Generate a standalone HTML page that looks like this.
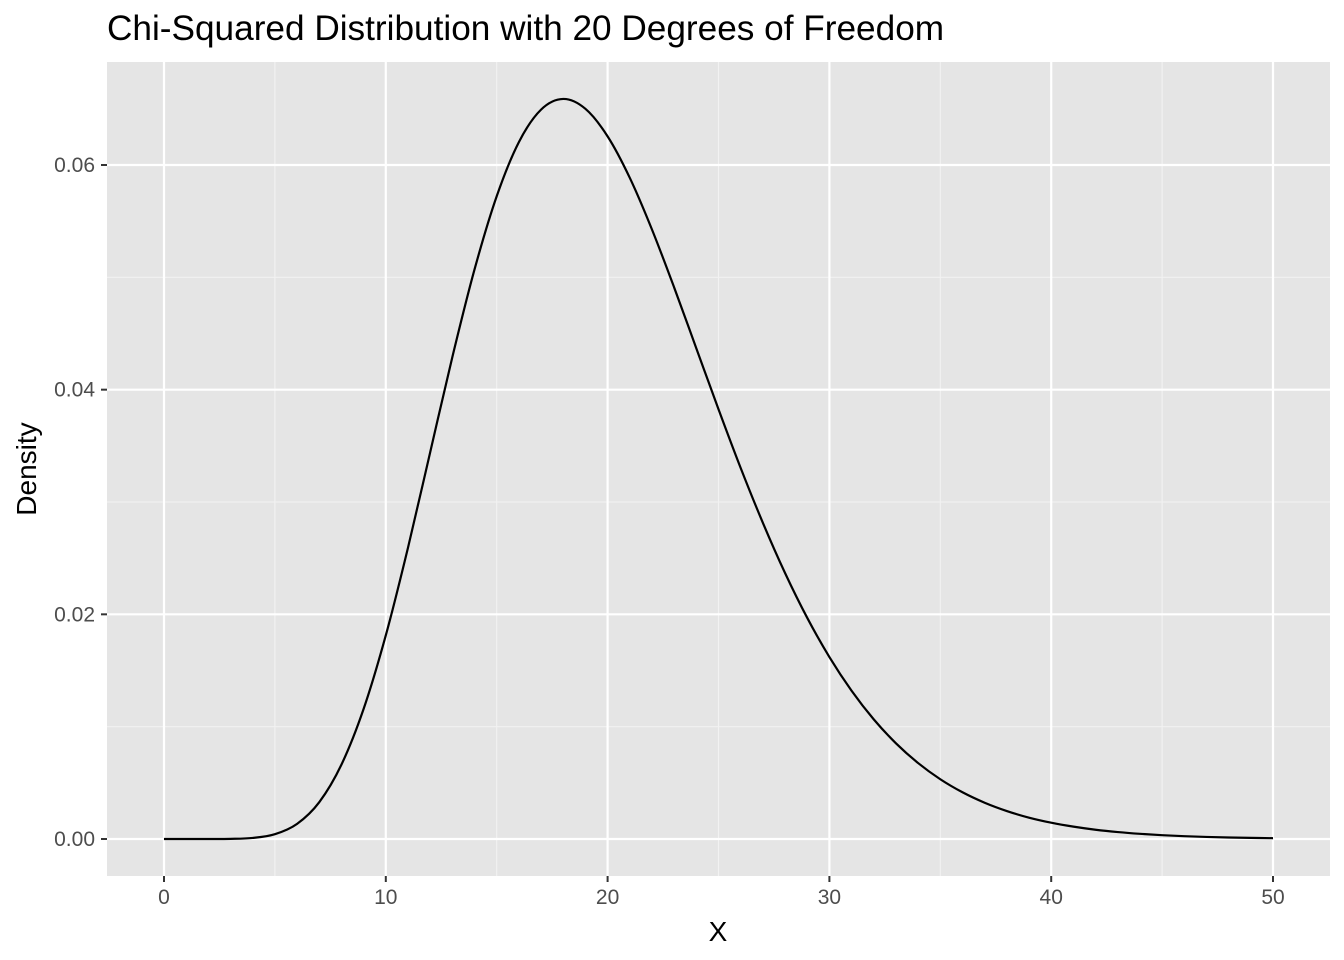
<!DOCTYPE html>
<html><head><meta charset="utf-8"><style>
body{margin:0;background:#fff;}
svg{display:block;font-family:"Liberation Sans",Arial,sans-serif;}
</style></head><body>
<svg id="chart" width="1344" height="960" viewBox="0 0 1344 960">
<rect x="0" y="0" width="1344" height="960" fill="#fff"/>
<text x="107" y="40" font-size="35.2" fill="#000">Chi-Squared Distribution with 20 Degrees of Freedom</text>
<rect x="107" y="62" width="1223" height="814" fill="#e5e5e5"/>
<g id="grid"></g>
<g id="axes"></g>
<path id="curve" fill="none" stroke="#000" stroke-width="2.2"/>
<text x="718" y="941" font-size="28" text-anchor="middle" fill="#000">X</text>
<text transform="translate(36,469) rotate(-90)" font-size="28" text-anchor="middle" fill="#000">Density</text>
</svg>
<script>
const xVals=[0,1,2,3,4,5,6,7,8,9,10,11,12,13,14,15,16,17,18,19,20,21,22,23,24,25,26,27,28,29,30,31,32,33,34,35,36,37,38,39,40,41,42,43,44,45,46,47,48,49,50];
const densVals=[0,0.0000000016,0.000000507,0.0000118,0.0000955,0.000431,0.00135,0.00328,0.00662,0.01158,0.01813,0.02593,0.03442,0.04290,0.05070,0.05722,0.06204,0.06493,0.06588,0.06500,0.06255,0.05886,0.05426,0.04910,0.04368,0.03826,0.03303,0.02815,0.02368,0.01969,0.01620,0.01320,0.01065,0.00852,0.00676,0.00532,0.00416,0.00323,0.00249,0.00190,0.00145,0.00110,0.000826,0.000618,0.000461,0.000341,0.000252,0.000185,0.000135,0.0000986,0.0000716];
const xTicks=[0,10,20,30,40,50];
const xMinor=[5,15,25,35,45];
const yTicks=[0,0.02,0.04,0.06];
const yTickLabels=["0.00","0.02","0.04","0.06"];
const yMinor=[0.01,0.03,0.05];
const NS="http://www.w3.org/2000/svg";
const X=v=>164+v*(1273-164)/50;
const Y=v=>839-v*(839-165)/0.06;
const grid=document.getElementById('grid'),axes=document.getElementById('axes');
function line(p,x1,y1,x2,y2,c,w){const l=document.createElementNS(NS,'line');l.setAttribute('x1',x1);l.setAttribute('y1',y1);l.setAttribute('x2',x2);l.setAttribute('y2',y2);l.setAttribute('stroke',c);l.setAttribute('stroke-width',w);p.appendChild(l);return l;}
function text(p,x,y,s,a){const t=document.createElementNS(NS,'text');t.setAttribute('x',x);t.setAttribute('y',y);t.setAttribute('font-size','21');t.setAttribute('fill','#4d4d4d');t.setAttribute('text-anchor',a);t.textContent=s;p.appendChild(t);return t;}
xMinor.forEach(v=>{const l=line(grid,X(v),62,X(v),876,'#f2f2f2',1.1);

});
yMinor.forEach(v=>{const l=line(grid,107,Y(v),1330,Y(v),'#f2f2f2',1.1);

});
xTicks.forEach(v=>{const l=line(grid,X(v),62,X(v),876,'#fff',2.2);


const tk=line(axes,X(v),876,X(v),882,'#333',2);


const t=text(axes,X(v),904,String(v),'middle');

});
yTicks.forEach((v,i)=>{const l=line(grid,107,Y(v),1330,Y(v),'#fff',2.2);


const tk=line(axes,101,Y(v),107,Y(v),'#333',2);


const t=text(axes,95,Y(v)+7,yTickLabels[i],'end');

});
const pts=xVals.map((x,i)=>[X(x),Y(densVals[i])]);
let d='M'+pts[0][0]+','+pts[0][1];
for(let i=0;i<pts.length-1;i++){const p0=pts[Math.max(0,i-1)],p1=pts[i],p2=pts[i+1],p3=pts[Math.min(pts.length-1,i+2)];
const c1=[p1[0]+(p2[0]-p0[0])/6,p1[1]+(p2[1]-p0[1])/6],c2=[p2[0]-(p3[0]-p1[0])/6,p2[1]-(p3[1]-p1[1])/6];
d+=` C${c1[0]},${c1[1]} ${c2[0]},${c2[1]} ${p2[0]},${p2[1]}`;}
document.getElementById('curve').setAttribute('d',d);
</script>
</body></html>
